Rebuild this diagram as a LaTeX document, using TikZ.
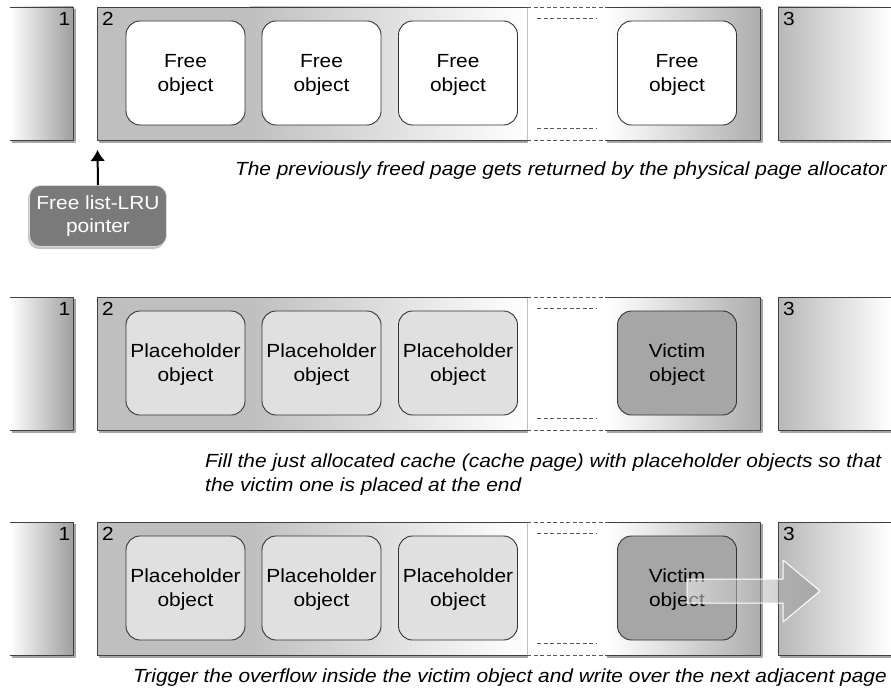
\documentclass[tikz,border=0pt]{standalone}
\usepackage{fontspec}
\setmainfont{Liberation Sans}[FakeStretch=1.1]
\usetikzlibrary{arrows.meta,shadows}

\begin{document}
\begin{tikzpicture}[x=1pt,y=-1pt,line join=round,>=Latex,
    pageline/.style={draw=black!75,line width=0.9pt},
    shadowline/.style={draw=black!35,line width=2pt},
    dashline/.style={draw=black!65,line width=0.7pt,dash pattern=on 4pt off 2.5pt},
    pagenum/.style={font=\fontsize{19}{22}\selectfont,inner sep=0pt},
    obj/.style={draw=black!80,line width=0.9pt,rounded corners=14pt,
        minimum width=119pt,minimum height=104pt,align=center,text depth=0pt,
        font=\fontsize{19}{24}\selectfont},
    caption/.style={font=\fontsize{19}{24}\selectfont\itshape,align=left,inner sep=0pt}]

\useasboundingbox (0,0) rectangle (891,695);

\def\objy{73}

% the pages, the same in every row
\foreach \dy in {0,290,515} {
  \begin{scope}[yshift=-\dy pt]
    % page 1
    \draw[shadowline] (12,142) -- (75,142) -- (75,9);
    \shade[left color=white,right color=black!38] (10,7) rectangle (73,140);
    \draw[pageline] (10,7) -- (73,7) -- (73,140) -- (10,140);
    \node[pagenum,anchor=north east] (one\dy) at (70.5,12) {1};
    % page 2, left part
    \draw[shadowline] (99,142) -- (528,142);
    \fill[black!25] (97,7) rectangle (250,140);
    \shade[left color=black!25,right color=white] (250,7) rectangle (527,140);
    \draw[black!25,line width=0.6pt] (527,7) -- (527,140);
    \draw[pageline] (527,7) -- (97,7) -- (97,140) -- (527,140);
    \node[pagenum,anchor=north west] (two\dy) at (102,12) {2};
    % the gap inside page 2
    \draw[dashline] (527,7) -- (607,7);
    \draw[dashline] (527,140) -- (607,140);
    \draw[dashline] (537,18) -- (597,18);
    \draw[dashline] (537,128) -- (597,128);
    % page 2, right part
    \draw[shadowline] (607,142) -- (762,142) -- (762,9);
    \shade[left color=white,right color=black!32] (607,7) rectangle (760,140);
    \draw[pageline] (607,7) -- (760,7) -- (760,140) -- (607,140);
    % page 3
    \draw[shadowline] (780,142) -- (891,142);
    \shade[left color=black!28,right color=white] (778,7) rectangle (891,140);
    \draw[pageline] (891,7) -- (778,7) -- (778,140) -- (891,140);
    \node[pagenum,anchor=north west] (three\dy) at (783,12) {3};
  \end{scope}
}

% row 1: freed page
\begin{scope}
    \foreach \x [count=\i] in {185.5,321.5,458,677}
        \node[obj,fill=white] (free\i) at (\x,\objy) {Free\\object};
    \node[caption,anchor=base east] (capa) at (887,176)
        {The previously freed page gets returned by the physical page allocator};
    \node[font=\fontsize{19}{23}\selectfont,text=white,align=center,
        fill=black!52,draw=white!85!black,line width=0.8pt,rounded corners=11pt,
        minimum width=137pt,minimum height=61pt,inner sep=2pt,
        drop shadow={shadow xshift=-1.5pt,shadow yshift=-2.5pt,fill=black!45}]
        (lru) at (98,216) {Free list-LRU\\pointer};
    \coordinate (lrutip) at (97.5,150);
    \draw[-{Latex[length=11pt,width=15pt]},line width=2pt] (lru.north) -- (lrutip);
\end{scope}

% row 2: placeholders and victim
\begin{scope}[yshift=-290pt]
    \foreach \x [count=\i] in {185.5,321.5,458}
        \node[obj,fill=black!12] (hold\i) at (\x,\objy) {Placeholder\\object};
    \node[obj,fill=black!35] (victim) at (677,\objy) {Victim\\object};
    \node[caption,anchor=north west] (capb) at (205,164)
        {Fill the just allocated cache (cache page) with placeholder objects so that\\
         the victim one is placed at the end};
\end{scope}

% row 3: overflow into page 3
\begin{scope}[yshift=-515pt]
    \foreach \x [count=\i] in {185.5,321.5,458}
        \node[obj,fill=black!12] (over\i) at (\x,\objy) {Placeholder\\object};
    \node[obj,fill=black!35] (victimc) at (677,\objy) {Victim\\object};
    \shade[left color=black!2,right color=black!50,draw=white,line width=1pt,fill opacity=0.5]
        (687,64) -- (783,64) -- (783,45) -- (820,76) -- (783,107)
        -- (783,88) -- (687,88) -- cycle;
    \node[caption,anchor=base east] (capc) at (887,167)
        {Trigger the overflow inside the victim object and write over the next adjacent page};
\end{scope}

\end{tikzpicture}
\end{document}
